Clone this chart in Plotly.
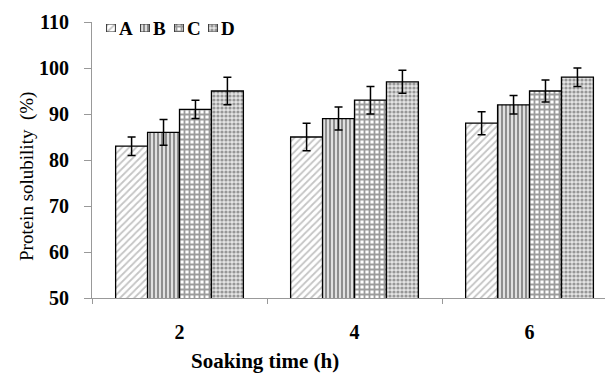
import plotly.graph_objects as go

categories = ["2", "4", "6"]
series_names = ["A", "B", "C", "D"]
A_vals = [83, 85, 88]
B_vals = [86, 89, 92]
C_vals = [91, 93, 95]
D_vals = [95, 97, 98]
A_err = [2.0, 3.0, 2.5]
B_err = [2.8, 2.5, 2.0]
C_err = [2.0, 3.0, 2.4]
D_err = [3.0, 2.5, 2.0]
y_ticks = [50, 60, 70, 80, 90, 100, 110]

FONT = "Liberation Serif"
OFF = 8  # default page body margin
W, H = 613 - OFF, 373 - OFF
L, R, T = 92 - OFF, 0, 22 - OFF
B = H - (298 - OFF)
PW, PH = W - L - R, H - T - B

patterns = [
    dict(shape="/", fgcolor="#8a8a8a", bgcolor="#ffffff", size=5, solidity=0.35),
    dict(shape="|", fgcolor="#2a2a2a", bgcolor="#e0e0e0", size=4, solidity=0.45),
    dict(shape="+", fgcolor="#3a3a3a", bgcolor="#ffffff", size=5, solidity=0.6),
    dict(shape=".", fgcolor="#4a4a4a", bgcolor="#e4e4e4", size=4, solidity=0.5),
]
vals = [A_vals, B_vals, C_vals, D_vals]
errs = [A_err, B_err, C_err, D_err]

fig = go.Figure()
for name, v, e, p in zip(series_names, vals, errs, patterns):
    fig.add_trace(go.Bar(
        x=categories, y=v, name=name, showlegend=False,
        marker=dict(color="white", pattern=p, line=dict(color="black", width=1.3)),
        error_y=dict(type="data", array=e, color="black", thickness=1.5, width=4),
    ))


def px_x(p):
    return (p - OFF - L) / PW


def px_y(p):
    return (H - B - (p - OFF)) / PH


# custom compact legend: swatches on a small overlay axis
for i, (name, p) in enumerate(zip(series_names, patterns)):
    fig.add_trace(go.Bar(
        x=[i], y=[1], width=[0.26], xaxis="x2", yaxis="y2", showlegend=False,
        hoverinfo="skip",
        marker=dict(color="white", pattern=p, line=dict(color="#333333", width=1)),
    ))
    fig.add_annotation(text=name, xref="x2", yref="y2", x=i + 0.17, y=0.4,
                       xanchor="left", yanchor="middle", showarrow=False,
                       font=dict(family=FONT, size=19, weight="bold"))

fig.update_layout(
    width=W, height=H,
    margin=dict(l=L, r=R, t=T, b=B, autoexpand=False),
    paper_bgcolor="white", plot_bgcolor="white",
    barmode="group", bargap=0.27, bargroupgap=0,
    font=dict(family=FONT, color="black"),
    showlegend=False,
    xaxis2=dict(domain=[px_x(94), px_x(230)], range=[-0.5, 3.5], anchor="y2",
                visible=False, fixedrange=True),
    yaxis2=dict(domain=[px_y(32), px_y(24)], range=[0, 1], anchor="x2",
                visible=False, fixedrange=True),
    xaxis=dict(
        type="category", range=[-0.5, 2.477],
        showline=True, linecolor="#999999", linewidth=1,
        ticks="outside", ticklen=5, tickcolor="#999999", tickson="boundaries",
        tickfont=dict(family=FONT, size=20, weight="bold"),
        ticklabelstandoff=16, showgrid=False, zeroline=False, automargin=False,
    ),
    yaxis=dict(
        range=[50, 110], tickvals=y_ticks,
        showline=True, linecolor="#999999", linewidth=1,
        ticks="outside", ticklen=7, tickcolor="#999999",
        tickfont=dict(family=FONT, size=20, weight="bold"),
        ticklabelstandoff=11, showgrid=False, zeroline=False, automargin=False,
    ),
)
fig.add_annotation(text="Soaking time (h)", xref="paper", yref="paper",
                   x=px_x(265), y=px_y(361), xanchor="center", yanchor="middle",
                   showarrow=False, font=dict(family=FONT, size=21, weight="bold"))
fig.add_annotation(text="Protein solubility  (%)", xref="paper", yref="paper",
                   x=px_x(27), y=px_y(177), xanchor="center", yanchor="middle",
                   textangle=-90, showarrow=False, font=dict(family=FONT, size=19))

fig.write_html("out.html")
